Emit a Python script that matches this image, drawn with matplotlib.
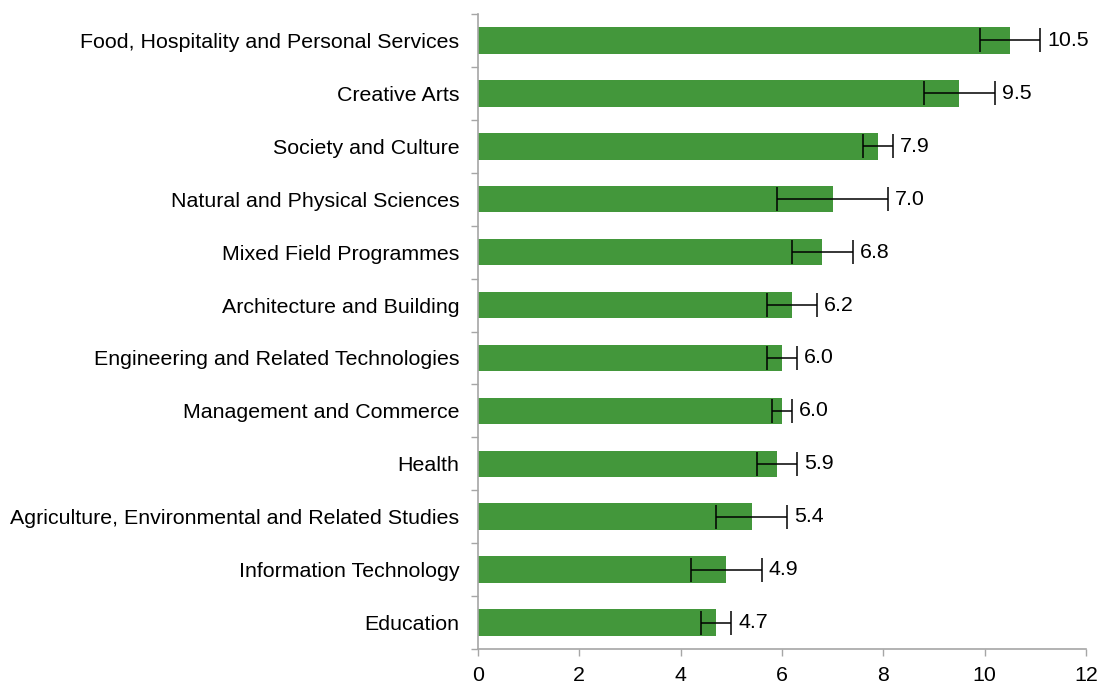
import numpy as np
import matplotlib.pyplot as plt

plt.rcParams['font.family'] = ['Liberation Sans', 'DejaVu Sans']

# Fields of education, top to bottom
fields = [
    "Food, Hospitality and Personal Services",
    "Creative Arts",
    "Society and Culture",
    "Natural and Physical Sciences",
    "Mixed Field Programmes",
    "Architecture and Building",
    "Engineering and Related Technologies",
    "Management and Commerce",
    "Health",
    "Agriculture, Environmental and Related Studies",
    "Information Technology",
    "Education",
]
values = [10.5, 9.5, 7.9, 7.0, 6.8, 6.2, 6.0, 6.0, 5.9, 5.4, 4.9, 4.7]
errors = [0.6, 0.7, 0.3, 1.1, 0.6, 0.5, 0.3, 0.2, 0.4, 0.7, 0.7, 0.3]
xticks = [0, 2, 4, 6, 8, 10, 12]

green = "#43973b"
grey = "#a6a6a6"
fs = 15.4

fig = plt.figure(figsize=(11, 6.84), dpi=100)
ax = fig.add_axes([0.4345, 0.0512, 0.5527, 0.9283])

y = np.arange(len(fields))
ax.barh(y, values, height=0.5, color=green, zorder=2)
ax.errorbar(values, y, xerr=errors, fmt="none", ecolor="black",
            elinewidth=1.1, capsize=8.5, capthick=1.1, zorder=3)

for yi, v, e in zip(y, values, errors):
    ax.annotate(f"{v:.1f}", (v + e, yi), xytext=(5, 0), textcoords="offset points",
                va="center", ha="left", fontsize=fs)

ax.set_ylim(len(fields) - 0.5, -0.5)
ax.set_xlim(0, 12)
ax.set_yticks(y)
ax.set_yticklabels(fields, fontsize=fs)
ax.set_yticks(np.arange(-0.5, len(fields), 1), minor=True)
ax.tick_params(axis="y", which="major", length=0, pad=13.5)
ax.tick_params(axis="y", which="minor", length=5, color=grey, width=1)
ax.set_xticks(xticks)
ax.tick_params(axis="x", length=5, color=grey, width=1, labelsize=fs, pad=7)

for side in ["top", "right"]:
    ax.spines[side].set_visible(False)
for side in ["left", "bottom"]:
    ax.spines[side].set_color(grey)
    ax.spines[side].set_linewidth(1.2)

fig.savefig("out.png", dpi=100)
